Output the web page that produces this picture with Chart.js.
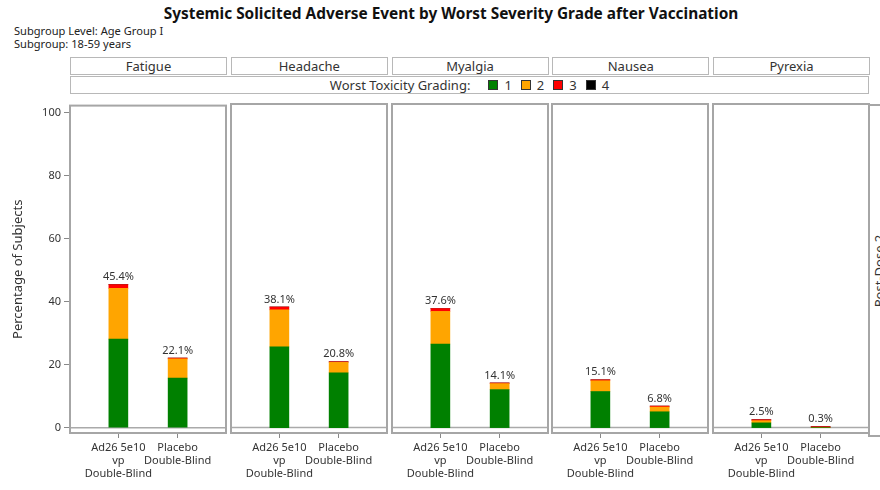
<!DOCTYPE html>
<html>
<head>
<meta charset="utf-8">
<script src="https://cdn.jsdelivr.net/npm/chart.js@4.4.0/dist/chart.umd.min.js"></script>
<style>
  body { margin: 0; width: 880px; height: 490px; background: #fff; position: relative; overflow: hidden;
         font-family: "Noto Sans", sans-serif; color: #333; }
  .abs { position: absolute; }
  #title { left: 0; width: 902px; top: 3px; text-align: center; font-weight: bold; font-size: 15.4px; color: #111; }
  .sub { left: 14px; font-size: 11.1px; color: #222; }
  .strip { box-sizing: border-box; border: 1px solid #b8b8b8; text-align: center; font-size: 13px; line-height: 16px; }
  #legend { display: flex; justify-content: center; align-items: center; font-size: 13px; }
  #legend .sw { display: inline-block; width: 8px; height: 8px; border: 1px solid #333; margin: 0 6px 0 0; }
  #legend .it { display: flex; align-items: center; }
  #pd { border: 2px solid #a6a6a6; box-sizing: border-box; }
  #pd span { position: absolute; left: 50%; top: 50%; transform: translate(-50%, -50%) rotate(-90deg);
             white-space: nowrap; font-size: 13px; }
  canvas { position: absolute; }
</style>
</head>
<body>
<div id="title" class="abs">Systemic Solicited Adverse Event by Worst Severity Grade after Vaccination</div>
<div class="abs sub" style="top:23px">Subgroup Level: Age Group I</div>
<div class="abs sub" style="top:36px">Subgroup: 18-59 years</div>
<div id="legend" class="abs strip" style="left:70px; top:76px; width:799px; height:18px;"></div>
<div id="pd" class="abs" style="left:868px; top:104px; width:22px; height:333px;"><span>Post-Dose 2</span></div>

<script>
const events = ['Fatigue', 'Headache', 'Myalgia', 'Nausea', 'Pyrexia'];
const arms = [['Ad26 5e10', 'vp', 'Double-Blind'], ['Placebo', 'Double-Blind']];
const gradeLabels = ['1', '2', '3', '4'];
const gradeColors = ['#008000', '#ffa500', '#ff0000', '#000000'];

// per event: [vaccine, placebo]
const grade1 = [[28.1, 15.7], [25.5, 17.3], [26.4, 12.0], [11.4, 5.0], [1.5, 0]];
const grade2 = [[16.1, 6.1], [11.7, 3.3], [10.3, 1.9], [3.4, 1.5], [0.7, 0]];
const grade3 = [[1.2, 0.3], [0.9, 0.2], [0.9, 0.2], [0.3, 0.3], [0.3, 0.3]];
const grade4 = [[0, 0], [0, 0], [0, 0], [0, 0], [0, 0]];
const totals = [[45.4, 22.1], [38.1, 20.8], [37.6, 14.1], [15.1, 6.8], [2.5, 0.3]];
const yTicks = [0, 20, 40, 60, 80, 100];

const grades = [grade1, grade2, grade3, grade4];
const panelLeft = 70, panelW = 156, panelGap = 4.75;
const axisW = 70;

// legend strip
const legend = document.getElementById('legend');
legend.innerHTML = '<span>Worst Toxicity Grading:</span>' + gradeLabels.map((g, k) =>
  `<span class="it" style="margin-left:${k ? 9 : 18}px"><span class="sw" style="background:${gradeColors[k]}"></span>${g}</span>`
).join('');

function panelPlugin(i) {
  return {
    id: 'panel' + i,
    beforeDatasetsDraw(chart) {
      const { ctx, chartArea: a, scales } = chart;
      const y0 = scales.y.getPixelForValue(0);
      ctx.save();
      ctx.strokeStyle = '#aaaaaa';
      ctx.lineWidth = 1.5;
      ctx.beginPath();
      ctx.moveTo(a.left, y0);
      ctx.lineTo(a.right, y0);
      ctx.stroke();
      ctx.restore();
    },
    afterDatasetsDraw(chart) {
      const { ctx, chartArea: a, scales } = chart;
      ctx.save();
      ctx.strokeStyle = '#a6a6a6';
      ctx.lineWidth = 2;
      ctx.strokeRect(a.left, a.top, a.right - a.left, a.bottom - a.top);
      ctx.fillStyle = '#333';
      ctx.font = '11px "Noto Sans"';
      ctx.textAlign = 'center';
      ctx.textBaseline = 'bottom';
      totals[i].forEach((t, j) => {
        const x = scales.x.getPixelForValue(j);
        const y = scales.y.getPixelForValue(t) - 2;
        ctx.fillText(t.toFixed(1) + '%', x, y);
      });
      ctx.restore();
    }
  };
}

events.forEach((ev, i) => {
  const left = panelLeft + i * (panelW + panelGap);

  const strip = document.createElement('div');
  strip.className = 'abs strip';
  strip.style.cssText = `left:${left}px; top:57px; width:${panelW + 1}px; height:18px;`;
  strip.textContent = ev;
  document.body.appendChild(strip);

  const first = i === 0;
  const cv = document.createElement('canvas');
  const cLeft = first ? 0 : left - 1;
  const cW = first ? axisW + panelW + 1 : panelW + 2;
  cv.style.left = cLeft + 'px';
  cv.style.top = '96px';
  cv.style.width = cW + 'px';
  cv.style.height = '394px';
  cv.width = cW;
  cv.height = 394;
  document.body.appendChild(cv);

  new Chart(cv, {
    type: 'bar',
    data: {
      datasets: grades.map((g, k) => ({
        label: gradeLabels[k],
        data: g[i].map((v, j) => ({ x: j, y: v })),
        backgroundColor: gradeColors[k],
        borderWidth: 0,
        barThickness: 19
      }))
    },
    options: {
      responsive: false,
      animation: false,
      events: [],
      layout: { padding: { top: 8, left: first ? 0 : 1, right: 1, bottom: 0 } },
      plugins: { legend: { display: false }, tooltip: { enabled: false } },
      scales: {
        x: {
          type: 'linear',
          stacked: true,
          min: -0.816,
          max: 1.816,
          offset: false,
          afterBuildTicks: s => { s.ticks = [{ value: 0 }, { value: 1 }]; },
          afterFit: s => { s.height = 57; s.paddingLeft = 0; s.paddingRight = 0; },
          border: { display: false },
          grid: { drawOnChartArea: false, offset: false, tickLength: 5, color: '#888' },
          ticks: {
            autoSkip: false, maxRotation: 0, padding: 3, color: '#333',
            font: { family: 'Noto Sans', size: 11, lineHeight: 1.2 },
            callback: v => arms[v] || ''
          }
        },
        y: {
          type: 'linear',
          stacked: true,
          display: first,
          min: -1.7,
          max: 102.2,
          afterBuildTicks: s => { s.ticks = yTicks.map(v => ({ value: v })); },
          afterFit: s => { if (first) s.width = axisW; },
          border: { display: false },
          grid: { drawOnChartArea: false, tickLength: 6, color: '#888' },
          ticks: { padding: 3, color: '#333', font: { family: 'Noto Sans', size: 11 } },
          title: {
            display: true, text: 'Percentage of Subjects', color: '#333',
            font: { family: 'Noto Sans', size: 13 }, padding: { top: 10, bottom: 0 }
          }
        }
      }
    },
    plugins: [panelPlugin(i)]
  });
});
</script>
</body>
</html>
